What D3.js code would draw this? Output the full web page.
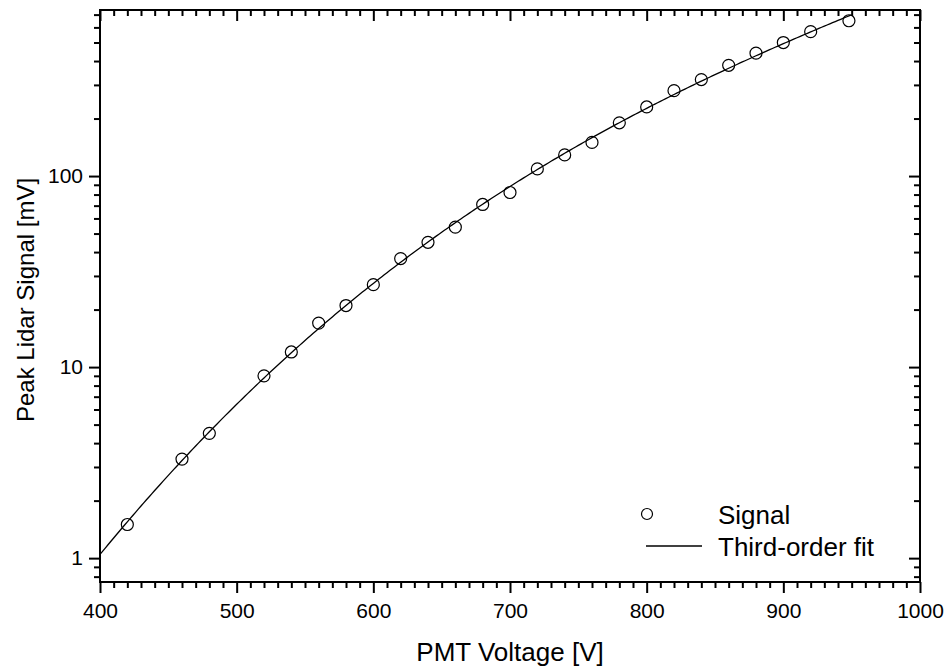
<!DOCTYPE html>
<html>
<head>
<meta charset="utf-8">
<script src="https://cdn.jsdelivr.net/npm/d3@7"></script>
<style>
  html, body { margin: 0; padding: 0; background: #fff; }
  svg { display: block; font-family: Arial, "Liberation Sans", sans-serif; }
</style>
</head>
<body>
<svg id="chart" width="945" height="666"></svg>
<script>
// PMT high voltage (V) and peak lidar return (mV)
const voltage = [420, 460, 480, 520, 540, 560, 580, 600, 620, 640, 660, 680, 700,
                 720, 740, 760, 780, 800, 820, 840, 860, 880, 900, 920, 948];
const signal  = [1.5, 3.3, 4.5, 9, 12, 17, 21, 27, 37, 45, 54, 71, 82,
                 109, 129, 150, 190, 230, 280, 320, 380, 440, 500, 570, 650];
const xTicks = [400, 500, 600, 700, 800, 900, 1000];
const yTicks = [1, 10, 100];
const xDomain = [400, 1000];
const yDomain = [0.75, 740];
const fitRange = [400, 950];
const legendLabels = ["Signal", "Third-order fit"];

const svg = d3.select("#chart");
const m = { left: 100, right: 25, top: 10, bottom: 84 };
const W = 945, H = 666;
const x = d3.scaleLinear().domain(xDomain).range([m.left, W - m.right]);
const y = d3.scaleLog().domain(yDomain).range([H - m.bottom, m.top]);

// Least-squares cubic in log10(signal) vs voltage (centred/scaled for stability)
function cubicFit(xs, ys) {
  const xm = d3.mean(xs), xs_ = 100;
  const n = 4, A = Array.from({length: n}, () => new Array(n + 1).fill(0));
  xs.forEach((xv, k) => {
    const t = (xv - xm) / xs_;
    const p = [1, t, t * t, t * t * t];
    for (let i = 0; i < n; i++) {
      for (let j = 0; j < n; j++) A[i][j] += p[i] * p[j];
      A[i][n] += p[i] * ys[k];
    }
  });
  for (let i = 0; i < n; i++) {
    let piv = i;
    for (let r = i + 1; r < n; r++) if (Math.abs(A[r][i]) > Math.abs(A[piv][i])) piv = r;
    [A[i], A[piv]] = [A[piv], A[i]];
    for (let r = 0; r < n; r++) {
      if (r === i) continue;
      const f = A[r][i] / A[i][i];
      for (let c = i; c <= n; c++) A[r][c] -= f * A[i][c];
    }
  }
  const c = A.map((row, i) => row[n] / row[i]);
  return v => { const t = (v - xm) / xs_; return c[0] + c[1] * t + c[2] * t * t + c[3] * t * t * t; };
}
const fit = cubicFit(voltage, signal.map(Math.log10));
const fitPts = d3.range(fitRange[0], fitRange[1] + 0.001, 2).map(v => [v, Math.pow(10, fit(v))]);

const plot = svg.append("g");
svg.append("clipPath").attr("id", "clip").append("rect")
  .attr("x", m.left).attr("y", m.top)
  .attr("width", W - m.left - m.right).attr("height", H - m.top - m.bottom);

// fit line
plot.append("path")
  .datum(fitPts)
  .attr("clip-path", "url(#clip)")
  .attr("fill", "none").attr("stroke", "#000").attr("stroke-width", 1.3)
  .attr("d", d3.line().x(d => x(d[0])).y(d => y(d[1])));

// measured points
plot.selectAll("circle.pt")
  .data(voltage.map((v, i) => [v, signal[i]]))
  .join("circle").attr("class", "pt")
  .attr("cx", d => x(d[0])).attr("cy", d => y(d[1])).attr("r", 6)
  .attr("fill", "none").attr("stroke", "#000").attr("stroke-width", 1.2);

// axes
const xMinor = d3.range(xDomain[0], xDomain[1] + 1, 10).filter(v => v % 100 !== 0);
const yMinor = [];
for (let e = -1; e <= 2; e++) for (let k = 2; k <= 9; k++) {
  const v = k * Math.pow(10, e);
  if (v >= yDomain[0] && v <= yDomain[1]) yMinor.push(v);
}
const major = 11, minor = 6;

function styleAxis(g) {
  g.select(".domain").remove();
  g.selectAll("line").attr("stroke", "#000").attr("stroke-width", 2);
}
// bottom (outward)
svg.append("g").attr("transform", `translate(0,${H - m.bottom})`)
  .call(d3.axisBottom(x).tickValues(xMinor).tickSize(minor).tickFormat(""))
  .call(styleAxis);
svg.append("g").attr("transform", `translate(0,${H - m.bottom})`)
  .call(d3.axisBottom(x).tickValues(xTicks).tickSize(major).tickPadding(10).tickFormat(d3.format("d")))
  .call(styleAxis)
  .selectAll("text").attr("font-size", 21).attr("fill", "#000").attr("dy", "0.71em")
  .attr("font-family", "Arial, 'Liberation Sans', sans-serif");
// top (inward)
svg.append("g").attr("transform", `translate(0,${m.top})`)
  .call(d3.axisBottom(x).tickValues(xMinor).tickSize(minor).tickFormat("")).call(styleAxis);
svg.append("g").attr("transform", `translate(0,${m.top})`)
  .call(d3.axisBottom(x).tickValues(xTicks).tickSize(major).tickFormat("")).call(styleAxis);
// left (outward)
svg.append("g").attr("transform", `translate(${m.left},0)`)
  .call(d3.axisLeft(y).tickValues(yMinor).tickSize(minor).tickFormat("")).call(styleAxis);
svg.append("g").attr("transform", `translate(${m.left},0)`)
  .call(d3.axisLeft(y).tickValues(yTicks).tickSize(major).tickPadding(6).tickFormat(d3.format("d")))
  .call(styleAxis)
  .selectAll("text").attr("font-size", 21).attr("fill", "#000")
  .attr("font-family", "Arial, 'Liberation Sans', sans-serif");
// right (inward)
svg.append("g").attr("transform", `translate(${W - m.right},0)`)
  .call(d3.axisLeft(y).tickValues(yMinor).tickSize(minor).tickFormat("")).call(styleAxis);
svg.append("g").attr("transform", `translate(${W - m.right},0)`)
  .call(d3.axisLeft(y).tickValues(yTicks).tickSize(major).tickFormat("")).call(styleAxis);

// frame
svg.append("rect")
  .attr("x", m.left).attr("y", m.top)
  .attr("width", W - m.left - m.right).attr("height", H - m.top - m.bottom)
  .attr("fill", "none").attr("stroke", "#000").attr("stroke-width", 2);

// axis titles
svg.append("text")
  .attr("x", (m.left + W - m.right) / 2).attr("y", 661)
  .attr("text-anchor", "middle").attr("font-size", 26)
  .text("PMT Voltage [V]");
svg.append("text")
  .attr("transform", `translate(34,${(m.top + H - m.bottom) / 2 + 4}) rotate(-90)`)
  .attr("text-anchor", "middle").attr("font-size", 24)
  .text("Peak Lidar Signal [mV]");

// legend
const lg = svg.append("g");
lg.append("circle").attr("cx", 647).attr("cy", 514).attr("r", 5.5)
  .attr("fill", "none").attr("stroke", "#000").attr("stroke-width", 1.2);
lg.append("line").attr("x1", 646).attr("x2", 702).attr("y1", 546).attr("y2", 546)
  .attr("stroke", "#000").attr("stroke-width", 1.3);
lg.selectAll("text.lab").data(legendLabels).join("text").attr("class", "lab")
  .attr("x", 718).attr("y", (d, i) => 524 + i * 32)
  .attr("font-size", 26)
  .text(d => d);
</script>
</body>
</html>
